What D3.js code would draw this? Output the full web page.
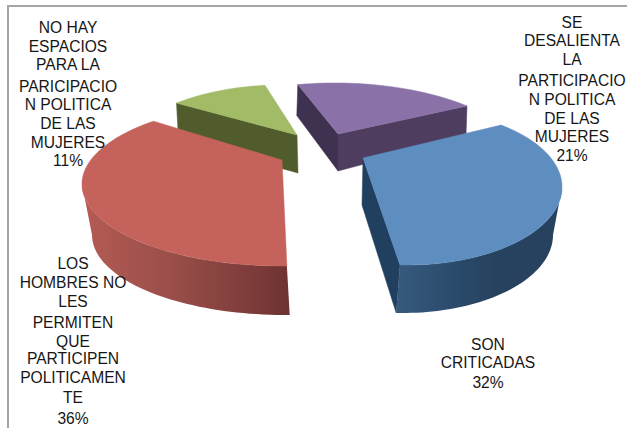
<!DOCTYPE html>
<html>
<head>
<meta charset="utf-8">
<script src="https://cdn.jsdelivr.net/npm/d3@7/dist/d3.min.js"></script>
<style>html,body{margin:0;padding:0;background:#fff}svg{display:block}</style>
</head>
<body>
<script>
const categories = ["NO HAY ESPACIOS", "SE DESALIENTA", "SON CRITICADAS", "LOS HOMBRES NO LES PERMITEN"];
const values = [11, 21, 32, 36];
const labelLines = [
  ["NO HAY","ESPACIOS","PARA LA","PARICIPACIO","N POLITICA","DE LAS","MUJERES","11%"],
  ["SE","DESALIENTA","LA","PARTICIPACIO","N POLITICA","DE LAS","MUJERES","21%"],
  ["SON","CRITICADAS","32%"],
  ["LOS","HOMBRES NO","LES","PERMITEN","QUE","PARTICIPEN","POLITICAMEN","TE","36%"]
];
const labelBaselines = [
  [33,52,70,92,110,129,148,166],
  [28,46,65,86,105,124,142,161],
  [350,368,388],
  [269,288,307,328,347,364,383,403,424]
];
const labelX = [68,572,488,73];
const topColors = ["#a2bb67","#8a72a8","#5e8dc0","#c4625b"];

// Drawing geometry of each exploded slice, as seen through the chart's 3D perspective
const geometry = [
  {apex:[297,135], base:[298,173], top:{cx:280,cy:175,a:172,b:90}, bot:{cx:282,cy:212,a:172,b:90}, sweep:[233,265], radial:[["start","#505c2b"]], outer:null},
  {apex:[338,134], base:[338,171], top:{cx:335,cy:170,a:195,b:87}, bot:{cx:334,cy:201,a:195,b:87}, sweep:[259,312.6], radial:[["start","#3f3150"],["end","#4f3d60"]], outer:null},
  {apex:[363,158], base:[362,205], top:{cx:407,cy:187,a:155,b:78}, bot:{cx:403,cy:235,a:150,b:78}, sweep:[-52.6,92.6], radial:[["end","#213f5e"]], outer:[0,92.6,"g-blue"]},
  {apex:[282,160], base:[284,208], top:{cx:282,cy:184,a:200,b:82}, bot:{cx:285,cy:235,a:193,b:80}, sweep:[88.6,230], radial:[], outer:[88.6,180,"g-red"]}
];

const W = 627, H = 428;
const svg = d3.select("body").append("svg").attr("width",W).attr("height",H);

const defs = svg.append("defs");
function grad(id){
  return defs.append("linearGradient").attr("id",id).attr("gradientUnits","userSpaceOnUse");
}
const gb = grad("g-blue").attr("x1",400).attr("x2",560).attr("y1",0).attr("y2",0);
[[0,"#36597d"],[0.35,"#2a4a6b"],[0.6,"#26425f"],[1,"#26425f"]].forEach(s=>gb.append("stop").attr("offset",s[0]).attr("stop-color",s[1]));
const gr = grad("g-red").attr("x1",90).attr("x2",288).attr("y1",0).attr("y2",0);
[[0,"#b25a53"],[0.4,"#9a4f49"],[1,"#6f3333"]].forEach(s=>gr.append("stop").attr("offset",s[0]).attr("stop-color",s[1]));

// frame
const frame = d3.path();
frame.moveTo(8,H); frame.lineTo(8,6); frame.lineTo(W,6);
svg.append("path").attr("d",frame.toString()).attr("fill","none").attr("stroke","#a6a6a6").attr("stroke-width",2);

const pie = d3.pie().value(d=>d).sort(null).startAngle(0).endAngle(2*Math.PI);
const arcs = pie(values);
const line = d3.line();
const rad = Math.PI/180;

function pt(e,deg){ return [e.cx+e.a*Math.cos(deg*rad), e.cy+e.b*Math.sin(deg*rad)]; }
function arcPts(e,from,to){
  const n = Math.max(2,Math.ceil(Math.abs(to-from)/2));
  return d3.range(n+1).map(i=>pt(e,from+(to-from)*i/n));
}

arcs.forEach((d,i)=>{
  const g = geometry[i];
  const toEllipse = d3.scaleLinear().domain([d.startAngle,d.endAngle]).range(g.sweep);
  const t0 = toEllipse(d.startAngle), t1 = toEllipse(d.endAngle);
  const layer = svg.append("g");

  g.radial.forEach(([side,color])=>{
    const t = side==="start"?t0:t1;
    layer.append("path")
      .attr("d",line([g.apex,pt(g.top,t),pt(g.bot,t),g.base])+"Z")
      .attr("fill",color).attr("stroke",color).attr("stroke-width",0.5);
  });
  if(g.outer){
    const [from,to,id] = g.outer;
    const pts = arcPts(g.top,from,to).concat(arcPts(g.bot,to,from));
    layer.append("path").attr("d",line(pts)+"Z").attr("fill",`url(#${id})`);
  }
  const topPts = [g.apex].concat(arcPts(g.top,t0,t1));
  layer.append("path").attr("d",line(topPts)+"Z")
    .attr("fill",topColors[i]).attr("stroke",topColors[i]).attr("stroke-width",0.5);
});

labelLines.forEach((lines,i)=>{
  const t = svg.append("text").attr("text-anchor","middle")
    .attr("font-family","'Liberation Sans',Arial,sans-serif")
    .attr("font-size",15.6).attr("fill","#161616");
  lines.forEach((s,j)=>t.append("tspan").attr("x",labelX[i]).attr("y",labelBaselines[i][j]).text(s));
});
</script>
</body>
</html>
